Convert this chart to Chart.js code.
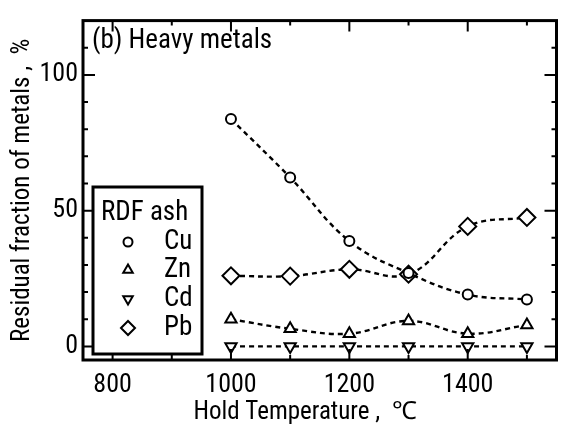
<!DOCTYPE html>
<html>
<head>
<meta charset="utf-8">
<script src="https://cdn.jsdelivr.net/npm/chart.js@4"></script>
<style>
  html, body { margin: 0; padding: 0; background: #fff; }
  #grafico { display: block; }
</style>
</head>
<body>
<canvas id="grafico" width="567" height="439"></canvas>
<script>
// temperaturas de retencion (C) y fraccion residual (%) de cada metal
const temperaturas = [1000, 1100, 1200, 1300, 1400, 1500];
const cobre = [83.8, 62.2, 38.8, 27, 19.1, 17.3];
const zinc = [10, 6.5, 4.7, 9.4, 4.7, 7.9];
const cadmio = [0, 0, 0, 0, 0, 0];
const plomo = [26, 25.9, 28.4, 26.6, 44.2, 47.5];

// marcas de los ejes; solo algunas llevan numero
const marcasY = [0, 10, 20, 30, 40, 50, 60, 70, 80, 90, 100, 110];
const marcasX = [800, 900, 1000, 1100, 1200, 1300, 1400, 1500];
const etiquetasY = [0, 50, 100];
const etiquetasX = [800, 1000, 1200, 1400];

const fuente = "'Roboto Condensed', 'Liberation Sans', Arial, sans-serif";
const negro = "#000";

// arma cada serie con su marcador
const serie = (nombre, datos, estilo, radio, rotacion) => ({
  label: nombre,
  data: temperaturas.map((t, i) => ({ x: t, y: datos[i] })),
  borderColor: negro,
  borderWidth: 2.4,
  borderDash: [5, 4],
  tension: 0.4,
  pointStyle: estilo,
  pointRadius: radio,
  pointRotation: rotacion || 0,
  pointBorderWidth: 2,
  pointBackgroundColor: "#fff",
  pointBorderColor: negro,
});

const datasets = [
  serie("Cu", cobre, "circle", 5),
  serie("Zn", zinc, "triangle", 6.5),
  serie("Cd", cadmio, "triangle", 6.5, 180),
  serie("Pb", plomo, "rectRot", 8.5),
];

// marco grueso y ticks hacia adentro en los cuatro lados
const marcoYTicks = {
  id: "marcoYTicks",
  afterDatasetsDraw(chart) {
    const { ctx, chartArea: a, scales } = chart;
    const x = scales.x, y = scales.y;
    ctx.save();
    ctx.strokeStyle = negro;
    ctx.lineWidth = 2;
    ctx.beginPath();
    marcasY.forEach((v) => {
      const py = y.getPixelForValue(v);
      const largo = etiquetasY.includes(v) ? 12 : 5;
      ctx.moveTo(a.left, py); ctx.lineTo(a.left + largo, py);
      ctx.moveTo(a.right, py); ctx.lineTo(a.right - largo, py);
    });
    marcasX.forEach((v) => {
      const px = x.getPixelForValue(v);
      const largo = etiquetasX.includes(v) ? 11 : 5;
      ctx.moveTo(px, a.bottom); ctx.lineTo(px, a.bottom - largo);
      ctx.moveTo(px, a.top); ctx.lineTo(px, a.top + largo);
    });
    ctx.stroke();
    ctx.lineWidth = 3;
    ctx.strokeRect(a.left, a.top, a.right - a.left, a.bottom - a.top);
    ctx.restore();
  },
  afterDraw(chart) {
    const { ctx, chartArea: a } = chart;
    ctx.save();
    ctx.fillStyle = negro;
    // titulo del panel
    ctx.font = "27px " + fuente;
    ctx.textBaseline = "middle";
    ctx.textAlign = "left";
    ctx.fillText("(b) Heavy metals", a.left + 9, 41);

    // titulos de los ejes
    ctx.font = "25px " + fuente;
    ctx.textAlign = "center";
    ctx.fillText("Hold Temperature ,  \u2103", 305, 413);
    ctx.save();
    ctx.translate(23, (a.top + a.bottom) / 2);
    ctx.rotate(-Math.PI / 2);
    ctx.fillText("Residual fraction of metals ,  %", 0, 0);
    ctx.restore();

    // leyenda dentro del grafico
    const caja = { x: 93, y: 187, w: 109, h: 167 };
    ctx.fillStyle = "#fff";
    ctx.fillRect(caja.x, caja.y, caja.w, caja.h);
    ctx.lineWidth = 3;
    ctx.strokeStyle = negro;
    ctx.strokeRect(caja.x, caja.y, caja.w, caja.h);
    ctx.fillStyle = negro;
    ctx.font = "27px " + fuente;
    ctx.textAlign = "left";
    ctx.fillText("RDF ash", 101, 213);
    const filas = [242, 270, 299, 328];
    const tamanos = [4.5, 5.5, 5.5, 7];
    chart.data.datasets.forEach((ds, i) => {
      ctx.lineWidth = 2;
      ctx.strokeStyle = negro;
      ctx.fillStyle = "#fff";
      Chart.helpers.drawPoint(ctx, {
        pointStyle: ds.pointStyle,
        radius: tamanos[i],
        rotation: ds.pointRotation,
        borderWidth: 2,
      }, 128, filas[i]);
      ctx.fillStyle = negro;
      ctx.fillText(ds.label, 164, filas[i]);
    });
    ctx.restore();
  },
};

const config = {
  type: "line",
  data: { datasets },
  options: {
    responsive: false,
    animation: false,
    layout: { padding: { top: 11, right: 4, left: 0, bottom: 0 } },
    plugins: { legend: { display: false }, tooltip: { enabled: false } },
    scales: {
      x: {
        type: "linear",
        min: 750,
        max: 1550,
        grid: { display: false, drawTicks: false },
        border: { display: false },
        afterBuildTicks: (s) => { s.ticks = marcasX.map((v) => ({ value: v })); },
        ticks: {
          autoSkip: false,
          maxRotation: 0,
          padding: 10,
          color: negro,
          font: { family: fuente, size: 26 },
          callback: (v) => (etiquetasX.includes(v) ? String(v) : ""),
        },
        afterFit: (s) => { s.height = 79; },
      },
      y: {
        min: -5,
        max: 120,
        grid: { display: false, drawTicks: false },
        border: { display: false },
        afterBuildTicks: (s) => { s.ticks = marcasY.map((v) => ({ value: v })); },
        ticks: {
          autoSkip: false,
          padding: 5,
          color: negro,
          font: { family: fuente, size: 26 },
          callback: (v) => (etiquetasY.includes(v) ? String(v) : ""),
        },
        afterFit: (s) => { s.width = 83; },
      },
    },
  },
  plugins: [marcoYTicks],
};

const grafico = new Chart(document.getElementById("grafico"), config);
</script>
</body>
</html>
